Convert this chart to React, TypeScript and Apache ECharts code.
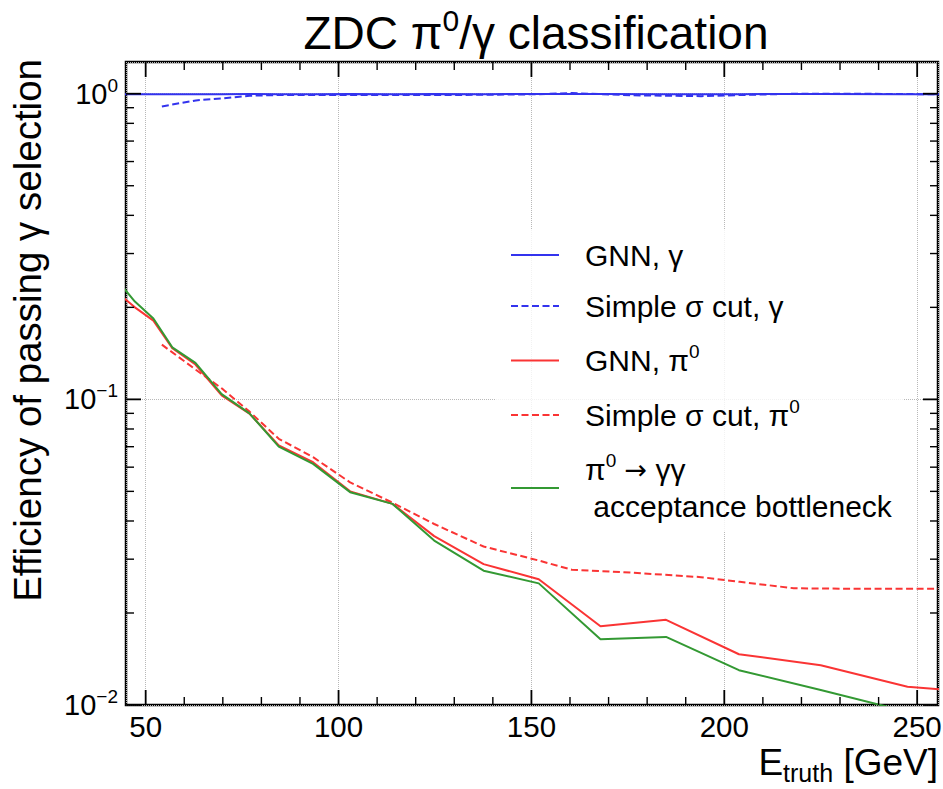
import React, { useEffect, useRef } from 'react';
import * as echarts from 'echarts';

const FONT = '"Liberation Sans", Arial, Helvetica, sans-serif';

// Axis ranges
const X_MIN = 44.9;
const X_MAX = 255.4;
const Y_MIN = 0.01;
const Y_MAX = 1.27;

// GNN binning (bin centres in GeV)
const ENERGY = [42.8, 47.2, 52.0, 56.9, 62.9, 69.7, 76.9, 84.5, 93.4, 103.0, 114.0, 124.8, 137.6, 151.9, 167.9, 184.9, 203.8, 225.0, 247.5, 272.9];
const GNN_GAMMA = [0.996, 0.996, 0.997, 0.996, 0.997, 0.997, 0.998, 0.997, 0.997, 0.998, 0.997, 0.998, 0.997, 0.998, 0.998, 0.997, 0.997, 0.998, 0.997, 0.997];
const GNN_PI0 = [0.223, 0.2, 0.181, 0.147, 0.13, 0.103, 0.0898, 0.0707, 0.0623, 0.05, 0.0455, 0.0357, 0.0289, 0.0258, 0.0181, 0.019, 0.01466, 0.01349, 0.01148, 0.01078];
const ACCEPTANCE = [0.244, 0.209, 0.184, 0.148, 0.1316, 0.104, 0.09, 0.07, 0.0615, 0.0497, 0.0455, 0.0345, 0.0275, 0.025, 0.0164, 0.0167, 0.013, 0.0112, 0.0095, 0.0085];

// Simple sigma cut binning
const ENERGY_SIMPLE = [54.2, 63.0, 70.0, 77.0, 84.5, 93.4, 103.0, 114.0, 124.8, 137.6, 151.9, 160.5, 176.0, 194.0, 204.0, 218.0, 233.0, 255.4];
const SIMPLE_GAMMA = [0.909, 0.951, 0.966, 0.985, 0.99, 0.99, 0.99, 0.99, 0.99, 0.992, 0.996, 1.005, 0.988, 0.982, 0.99, 1.0, 1.0, 0.996];
const SIMPLE_PI0 = [0.151, 0.125, 0.108, 0.091, 0.0743, 0.0647, 0.0535, 0.0459, 0.0391, 0.033, 0.0297, 0.0277, 0.0271, 0.0262, 0.0253, 0.0241, 0.024, 0.024];

// Tick positions
const X_MAJOR = [50, 100, 150, 200, 250];
const X_MINOR = [60, 70, 80, 90, 110, 120, 130, 140, 160, 170, 180, 190, 210, 220, 230, 240];
const Y_MAJOR = [0.01, 0.1, 1];
const Y_MINOR = [0.02, 0.03, 0.04, 0.05, 0.06, 0.07, 0.08, 0.09, 0.2, 0.3, 0.4, 0.5, 0.6, 0.7, 0.8, 0.9];

const NAMES = ['GNN, γ', 'Simple σ cut, γ', 'GNN, π⁰', 'Simple σ cut, π⁰', 'π⁰ → γγ acceptance bottleneck'];
const LEGEND_RICH: Record<string, string> = {
  'GNN, γ': '{g| }{t|GNN, γ}',
  'Simple σ cut, γ': '{g| }{t|Simple σ cut, γ}',
  'GNN, π⁰': '{g| }{t|GNN, π}{s|0}',
  'Simple σ cut, π⁰': '{g| }{t|Simple σ cut, π}{s|0}',
  'π⁰ → γγ acceptance bottleneck': '{g| }{u|π}{v|0}{u| }{a|→}{u| γγ}\n{g| }{u| acceptance bottleneck}',
};

const BLUE = '#3333ee';
const RED = '#fa3434';
const GREEN = '#339933';

const zip = (xs: number[], ys: number[]) => xs.map((x, i) => [x, ys[i]]);

export default function App() {
  const ref = useRef<HTMLDivElement>(null);
  useEffect(() => {
    if (!ref.current) return;
    const chart = echarts.init(ref.current, null, { renderer: 'svg' });
    const lineSeries = (name: string, xs: number[], ys: number[], color: string, dashed: boolean) => ({
      name,
      type: 'line',
      data: zip(xs, ys),
      symbol: 'none',
      showSymbol: false,
      clip: true,
      z: 3,
      lineStyle: { color, width: 2, type: dashed ? [7, 3.5] : 'solid' },
      itemStyle: { color },
    });
    const option: any = {
      animation: false,
      backgroundColor: '#ffffff',
      textStyle: { fontFamily: FONT },
      title: {
        text: 'ZDC {t|π}{s|0}{t|/γ classification}',
        left: 531,
        top: 0,
        padding: 5,
        textAlign: 'center',
        textStyle: {
          fontFamily: FONT,
          fontSize: 46,
          fontWeight: 'normal',
          color: '#000',
          lineHeight: 56,
          rich: {
            t: { fontFamily: FONT, fontSize: 46, lineHeight: 56, color: '#000' },
            s: { fontFamily: FONT, fontSize: 30, lineHeight: 30, verticalAlign: 'top', color: '#000' },
          },
        },
      },
      grid: {
        left: 126,
        top: 62,
        right: 5,
        bottom: 84,
        show: true,
        borderColor: '#000',
        borderWidth: 2.5,
        backgroundColor: 'transparent',
        containLabel: false,
        outerBoundsMode: 'none',
      },
      legend: {
        data: NAMES,
        orient: 'vertical',
        left: 496,
        top: 230,
        padding: [10, 12, 10, 14],
        itemGap: 21,
        itemWidth: 48,
        itemHeight: 14,
        backgroundColor: 'rgba(255,255,255,0.82)',
        selectedMode: false,
        itemStyle: { opacity: 0 },
        formatter: (name: string) => LEGEND_RICH[name] || name,
        textStyle: {
          fontFamily: FONT,
          fontSize: 30,
          color: '#000',
          rich: {
            g: { width: 21, fontSize: 30, lineHeight: 37 },
            t: { fontFamily: FONT, fontSize: 30, lineHeight: 37, color: '#000' },
            s: { fontFamily: FONT, fontSize: 19, lineHeight: 25, verticalAlign: 'top', color: '#000' },
            u: { fontFamily: FONT, fontSize: 30, lineHeight: 37, color: '#000' },
            a: { fontFamily: '"DejaVu Sans", sans-serif', fontSize: 27, lineHeight: 37, color: '#000' },
            v: { fontFamily: FONT, fontSize: 19, lineHeight: 25, verticalAlign: 'top', color: '#000' },
          },
        },
      },
      xAxis: {
        type: 'value',
        min: X_MIN,
        max: X_MAX,
        name: 'E{sub|truth} [GeV]',
        nameLocation: 'end',
        nameGap: 0,
        nameMoveOverlap: false,
        nameTextStyle: {
          fontFamily: FONT,
          fontSize: 37,
          lineHeight: 46,
          color: '#000',
          align: 'right',
          verticalAlign: 'top',
          padding: [34, 0, 0, 0],
          rich: {
            sub: { fontFamily: FONT, fontSize: 25, verticalAlign: 'bottom', color: '#000' },
          },
        },
        axisLine: { show: false },
        axisTick: { show: false },
        splitLine: { show: true, lineStyle: { type: 'dotted', color: '#b8b8b8', width: 1 } },
        axisLabel: {
          fontFamily: FONT,
          fontSize: 29.5,
          lineHeight: 24,
          color: '#000',
          margin: 9,
          showMinLabel: false,
          showMaxLabel: false,
          formatter: (v: number) => (Math.abs(v % 50) < 1e-9 ? String(v) : ''),
        },
      },
      yAxis: {
        type: 'log',
        logBase: 10,
        min: Y_MIN,
        max: Y_MAX,
        name: 'Efficiency of passing γ selection',
        nameLocation: 'end',
        nameRotate: 90,
        nameGap: 3,
        nameMoveOverlap: false,
        nameTextStyle: {
          fontFamily: FONT,
          fontSize: 38.5,
          lineHeight: 44,
          color: '#000',
          align: 'right',
          verticalAlign: 'bottom',
          padding: [0, 0, 77, 0],
        },
        axisLine: { show: false },
        axisTick: { show: false },
        splitLine: { show: true, lineStyle: { type: 'dotted', color: '#b8b8b8', width: 1 } },
        axisLabel: {
          fontFamily: FONT,
          fontSize: 29,
          color: '#000',
          margin: 8,
          showMaxLabel: false,
          formatter: (v: number) => {
            const e = Math.log10(v);
            const r = Math.round(e);
            if (Math.abs(e - r) > 1e-6) return '';
            return `{b|10}{s|${r === 0 ? '0' : '−' + Math.abs(r)}}`;
          },
          rich: {
            b: { fontFamily: FONT, fontSize: 29, lineHeight: 36, color: '#000' },
            s: { fontFamily: FONT, fontSize: 19, lineHeight: 24, verticalAlign: 'top', color: '#000' },
          },
        },
      },
      series: [
        lineSeries(NAMES[0], ENERGY, GNN_GAMMA, BLUE, false),
        lineSeries(NAMES[1], ENERGY_SIMPLE, SIMPLE_GAMMA, BLUE, true),
        lineSeries(NAMES[2], ENERGY, GNN_PI0, RED, false),
        lineSeries(NAMES[3], ENERGY_SIMPLE, SIMPLE_PI0, RED, true),
        lineSeries(NAMES[4], ENERGY, ACCEPTANCE, GREEN, false),
        {
          name: 'x ticks',
          type: 'custom',
          silent: true,
          z: 5,
          encode: { x: 0, y: 1 },
          data: [...X_MAJOR.map((v) => [v, 1, 1]), ...X_MINOR.map((v) => [v, 1, 0])],
          renderItem: (params: any, api: any) => {
            const cs = params.coordSys;
            const major = api.value(2) === 1;
            const len = major ? 15 : 8;
            const x = api.coord([api.value(0), 1])[0];
            const top = cs.y;
            const bottom = cs.y + cs.height;
            const style = { stroke: '#000', lineWidth: major ? 1.8 : 1.4 };
            return {
              type: 'group',
              children: [
                { type: 'line', shape: { x1: x, y1: bottom, x2: x, y2: bottom - len }, style },
                { type: 'line', shape: { x1: x, y1: top, x2: x, y2: top + len }, style },
              ],
            };
          },
        },
        {
          name: 'y ticks',
          type: 'custom',
          silent: true,
          z: 5,
          encode: { x: 0, y: 1 },
          data: [...Y_MAJOR.map((v) => [100, v, 1]), ...Y_MINOR.map((v) => [100, v, 0])],
          renderItem: (params: any, api: any) => {
            const cs = params.coordSys;
            const major = api.value(2) === 1;
            const len = major ? 15 : 8;
            const y = api.coord([100, api.value(1)])[1];
            const left = cs.x;
            const right = cs.x + cs.width;
            const style = { stroke: '#000', lineWidth: major ? 1.8 : 1.4 };
            return {
              type: 'group',
              children: [
                { type: 'line', shape: { x1: left, y1: y, x2: left + len, y2: y }, style },
                { type: 'line', shape: { x1: right, y1: y, x2: right - len, y2: y }, style },
              ],
            };
          },
        },
      ],
    };
    chart.setOption(option);
    return () => chart.dispose();
  }, []);
  return (
    <div
      ref={ref}
      style={{ position: 'absolute', left: 0, top: 0, width: 943, height: 789, background: '#fff' }}
    />
  );
}
